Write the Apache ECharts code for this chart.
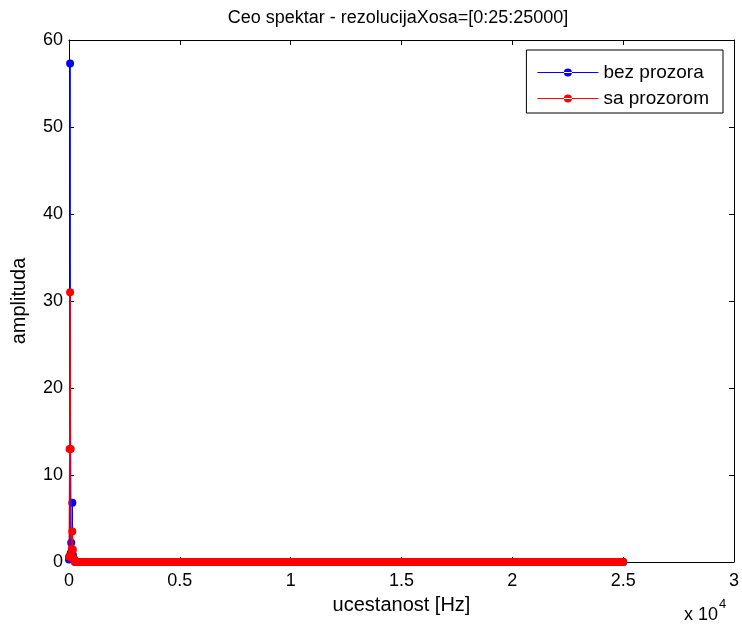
<!DOCTYPE html>
<html><head><meta charset="utf-8">
<script src="https://cdn.jsdelivr.net/npm/echarts@6/dist/echarts.min.js"></script>
<style>html,body{margin:0;padding:0;background:#fff;}#c{width:742px;height:631px;}</style>
</head><body><div id="c"></div>
<script>
// ---- data ----
const titleText = 'Ceo spektar - rezolucijaXosa=[0:25:25000]';
const seriesNames = ['bez prozora', 'sa prozorom'];
const seriesColors = ['#0000ff', '#ff0000'];
const freqStep = 25;          // Hz
const freqMax = 25000;        // Hz
// first bins (0, 25, 50, ... Hz); remaining bins read as ~0
const blueHead = [0.3, 0.6, 57.3, 1.0, 2.2, 1.1, 6.8, 0.8, 0.5, 0.3, 0.2];
const redHead  = [0.6, 13.0, 31.0, 13.0, 0.9, 1.5, 3.5, 1.4, 0.4, 0.2, 0.1];
const tailValue = 0;
const xTicks = [0, 5000, 10000, 15000, 20000, 25000, 30000];
const yTicks = [0, 10, 20, 30, 40, 50, 60];

// ---- build series ----
const freqs = [];
for (let f = 0; f <= freqMax; f += freqStep) freqs.push(f);
function build(head) {
  return freqs.map((f, i) => [f, i < head.length ? head[i] : tailValue]);
}
const blueData = build(blueHead);
const redData = build(redHead);

const font = 'Liberation Sans, Arial, sans-serif';
const fs = 18;
// legend icon: thin line with a dot in the middle
const legendIcon = 'path://M0,3.5L61,3.5L61,4.5L0,4.5Z M26.5,4A4,4 0 1,0 34.5,4A4,4 0 1,0 26.5,4Z';
const chart = echarts.init(document.getElementById('c'), null, {renderer: 'canvas'});
const baseX = {
  type: 'value', min: xTicks[0], max: xTicks[xTicks.length - 1], interval: 5000,
  axisLine: {show: true, onZero: false, lineStyle: {color: '#000', width: 1}},
  axisTick: {show: true, inside: true, length: 5, lineStyle: {color: '#000'}},
  splitLine: {show: false}
};
const baseY = {
  type: 'value', min: yTicks[0], max: yTicks[yTicks.length - 1], interval: 10,
  axisLine: {show: true, onZero: false, lineStyle: {color: '#000', width: 1}},
  axisTick: {show: true, inside: true, length: 5, lineStyle: {color: '#000'}},
  splitLine: {show: false}
};
chart.setOption({
  animation: false,
  backgroundColor: '#fff',
  title: {
    text: titleText, left: 393, top: 4, textAlign: 'center',
    textStyle: {fontFamily: font, fontSize: 18, fontWeight: 'normal', color: '#000'}
  },
  grid: {left: 69, right: 7, top: 40, bottom: 69, containLabel: false},
  legend: {
    data: seriesNames.map((n, i) => ({
      name: n, icon: legendIcon,
      itemStyle: {color: seriesColors[i], borderWidth: 0}
    })),
    orient: 'vertical', right: 19, top: 50,
    backgroundColor: '#fff', borderColor: '#000', borderWidth: 1,
    padding: [13, 14, 5, 11], itemGap: 7, itemWidth: 61, itemHeight: 8,
    textStyle: {fontFamily: font, fontSize: 19, color: '#000'}
  },
  xAxis: [
    Object.assign({}, baseX, {
      position: 'bottom',
      axisLabel: {fontFamily: font, fontSize: fs, color: '#000', margin: 10,
        formatter: v => String(v / 10000)},
      name: 'ucestanost [Hz]', nameLocation: 'middle', nameGap: 33,
      nameTextStyle: {fontFamily: font, fontSize: 20, color: '#000'}
    }),
    Object.assign({}, baseX, {position: 'top', axisLabel: {show: false}})
  ],
  yAxis: [
    Object.assign({}, baseY, {
      position: 'left',
      axisLabel: {fontFamily: font, fontSize: fs, color: '#000', margin: 6},
      name: 'amplituda', nameLocation: 'middle', nameGap: 40, nameRotate: 90,
      nameTextStyle: {fontFamily: font, fontSize: 20, color: '#000'}
    }),
    Object.assign({}, baseY, {position: 'right', axisLabel: {show: false}})
  ],
  graphic: [{
    type: 'text', left: 684, top: 598,
    style: {
      text: '{a|x 10}{b|4}', fontFamily: font,
      rich: {
        a: {fontFamily: font, fontSize: fs, color: '#000', verticalAlign: 'bottom', lineHeight: 26},
        b: {fontFamily: font, fontSize: 13, color: '#000', verticalAlign: 'top', lineHeight: 26, padding: [0, 0, 12, 1]}
      }
    }
  }],
  series: [
    {
      name: seriesNames[0], type: 'line', data: blueData, xAxisIndex: 0, yAxisIndex: 0,
      symbol: 'circle', symbolSize: 8, showSymbol: true, showAllSymbol: true,
      color: seriesColors[0], lineStyle: {color: seriesColors[0], width: 1},
      itemStyle: {color: seriesColors[0]}, z: 2
    },
    {
      name: seriesNames[1], type: 'line', data: redData, xAxisIndex: 0, yAxisIndex: 0,
      symbol: 'circle', symbolSize: 8, showSymbol: true, showAllSymbol: true,
      color: seriesColors[1], lineStyle: {color: seriesColors[1], width: 1},
      itemStyle: {color: seriesColors[1]}, z: 3
    }
  ]
});
</script></body></html>
